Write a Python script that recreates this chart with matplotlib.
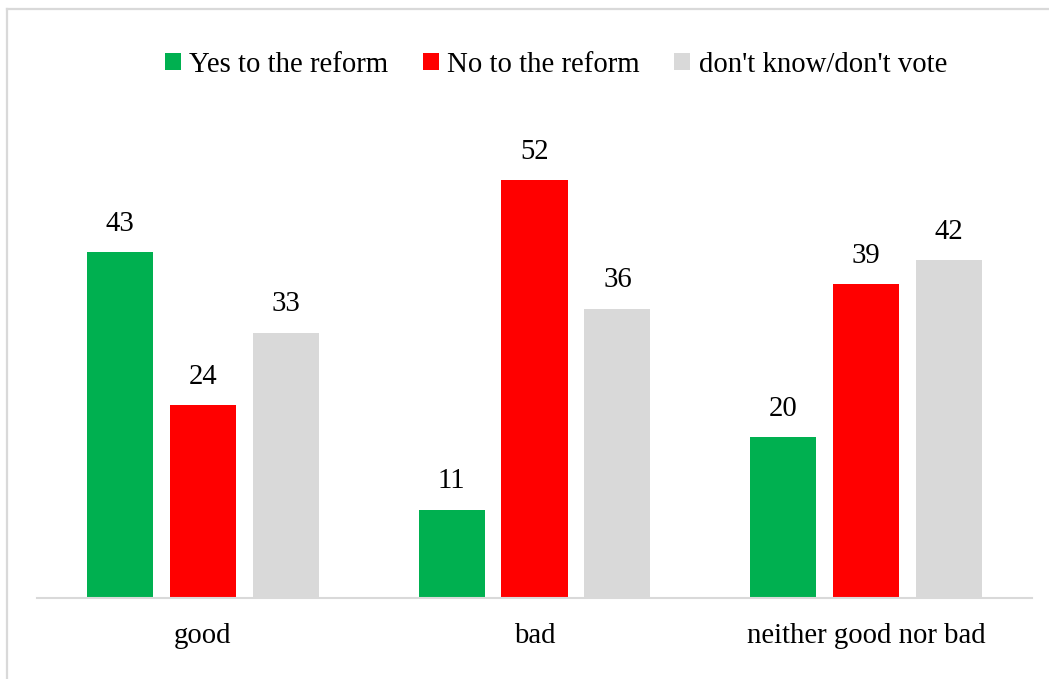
import matplotlib
matplotlib.use("Agg")
import matplotlib.pyplot as plt
import numpy as np
from matplotlib.lines import Line2D
from matplotlib.patches import Patch

categories = ["good", "bad", "neither good nor bad"]
series_names = ["Yes to the reform", "No to the reform", "don't know/don't vote"]
yes_values = [43, 11, 20]
no_values = [24, 52, 39]
dk_values = [33, 36, 42]
colors = ["#00B050", "#FF0000", "#D9D9D9"]

plt.rcParams["font.family"] = ["Liberation Serif", "DejaVu Serif"]
FS = 20.7

W, H = 1049, 679
fig = plt.figure(figsize=(W / 100, H / 100), dpi=100)
ax = fig.add_axes([37 / W, 1 - 598 / H, 995 / W, 482.4 / H])

x = np.arange(len(categories))
width = 0.199
offsets = [-0.25, 0.0, 0.25]
all_values = [yes_values, no_values, dk_values]
for vals, off, col, name in zip(all_values, offsets, colors, series_names):
    bars = ax.bar(x + off, vals, width=width, color=col, label=name, zorder=2)
    for b, v in zip(bars, vals):
        ax.annotate(f"{v}", (b.get_x() + b.get_width() / 2, v),
                    xytext=(0, 11), textcoords="offset points",
                    ha="center", va="bottom", fontsize=FS, color="#000000")

ax.set_xlim(-0.5, 2.5)
ax.set_ylim(0, 60)
ax.set_xticks(x)
ax.set_xticklabels(categories, fontsize=FS)
ax.tick_params(axis="x", length=0, pad=18)
ax.set_yticks([])
for s in ["top", "right", "left"]:
    ax.spines[s].set_visible(False)
ax.spines["bottom"].set_color("#D9D9D9")
ax.spines["bottom"].set_linewidth(1.5)
ax.spines["bottom"].set_zorder(3)

handles = [Patch(facecolor=c, edgecolor="none") for c in colors]
fig.legend(handles, series_names, loc="center", bbox_to_anchor=(556 / W, 1 - 65 / H),
           ncol=3, frameon=False, fontsize=FS, handlelength=0.55, handleheight=0.55,
           handletextpad=0.3, columnspacing=1.2, borderaxespad=0)

# outer frame, visible along the top and left edges
fig.add_artist(Line2D([7 / W, 7 / W], [0, 1 - 9 / H], transform=fig.transFigure,
                      color="#D9D9D9", lw=1.6))
fig.add_artist(Line2D([7 / W, 1], [1 - 9 / H, 1 - 9 / H], transform=fig.transFigure,
                      color="#D9D9D9", lw=1.6))

fig.savefig("out.png", dpi=100)
